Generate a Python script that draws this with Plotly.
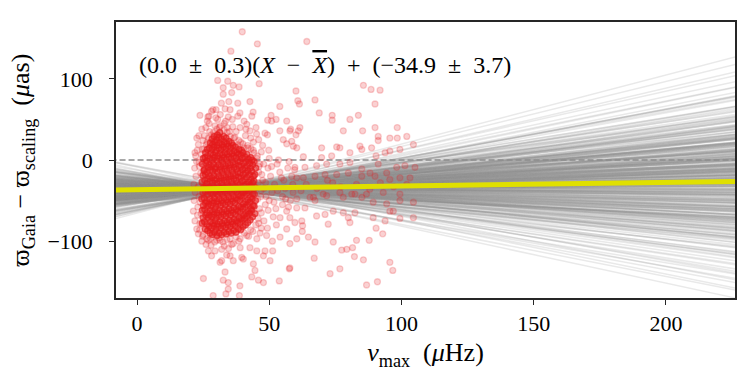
import plotly.graph_objects as go

# axis extent (muHz) and mean of nu_max used as pivot for the linear model
nu_range = [-7.94, 226.1]
nu_ends = [-10, 230]
nu_mean = 37.0

# best fit: slope, intercept at the pivot
fit_slope = 0.045
fit_icpt = -34.9

# posterior draws of (slope, intercept)
draw_slopes = [
    0.12, -0.31, 0.45, 0.03, -0.08, 0.27, -0.52, 0.18, 0.61, -0.19,
    0.07, 0.33, -0.27, 0.85, -0.04, 0.21, -0.41, 0.11, 0.39, -0.13,
    0.02, -0.66, 0.29, 0.15, -0.22, 0.52, 0.08, -0.35, 0.44, -0.01,
    0.24, -0.17, 0.70, -0.46, 0.13, 0.36, -0.09, 0.19, -0.28, 0.05,
    0.57, -0.38, 0.26, -0.11, 0.41, 0.01, -0.58, 0.31, 0.09, -0.24,
    0.48, -0.06, 0.17, -0.43, 0.64, 0.22, -0.15, 0.35, -0.70, 0.10,
    0.28, -0.20, 0.04, 0.50, -0.33, 0.16, -0.02, 0.38, -0.49, 0.23,
    0.76, -0.12, 0.06, -0.29, 0.43, 0.14, -0.37, 0.30, -0.05, 0.54,
    -0.18, 0.20, -0.62, 0.34, 0.00, 0.47, -0.25, 0.11, -0.44, 0.67,
    0.25, -0.10, 0.40, -0.32, 0.08, -0.55, 0.32, 0.18, -0.07, 0.59,
    0.09, -0.26, 0.37, 0.14, -0.14, 0.53, -0.40, 0.21, 0.02, -0.21,
    0.46, -0.03, 0.28, -0.48, 0.16, 0.62, -0.16, 0.06, 0.33, -0.34,
    0.19, -0.09, 0.42, -0.60, 0.12, 0.27, -0.23, 0.73, 0.04, -0.12,
    0.36, -0.30, 0.15, 0.50, -0.05, 0.23, -0.45, 0.10, 0.31, -0.19,
    0.55, 0.01, -0.36, 0.26, -0.08, 0.44, -0.53, 0.17, 0.07, -0.27,
    0.39, -0.13, 0.22, 0.66, -0.39, 0.13, -0.01, 0.30, -0.22, 0.48,
    0.03, -0.47, 0.34, 0.11, -0.17, 0.58, -0.06, 0.24, -0.32, 0.80,
    0.15, -0.11, 0.41, -0.28, 0.05, 0.29, -0.64, 0.20, -0.02, 0.51,
    -0.20, 0.35, 0.08, -0.42, 0.25, -0.04, 0.45, -0.15, 0.13, -0.57,
    0.32, 0.18, -0.24, 0.60, 0.00, -0.33, 0.38, 0.09, -0.10, 0.22,
    0.05, 0.14, -0.07, 0.22, -0.15, 0.09, 0.28, -0.02, 0.17, -0.21,
    0.11, 0.31, -0.11, 0.03, 0.19, -0.26, 0.08, 0.25, -0.04, 0.13,
    -0.18, 0.20, 0.01, 0.34, -0.09, 0.16, -0.13, 0.27, 0.06, -0.23,
    0.12, 0.38, -0.01, 0.21, -0.16, 0.07, 0.30, -0.06, 0.15, 0.42,
    -0.29, 0.10, 0.24, -0.03, 0.18, -0.12, 0.33, 0.04, -0.19, 0.26,
    0.02, 0.14, -0.08, 0.29, -0.22, 0.09, 0.19, -0.14, 0.36, 0.00,
    0.23, -0.05, 0.12, -0.25, 0.27, 0.07, -0.10, 0.17, 0.40, -0.17,
    0.05, 0.22, -0.02, 0.13, -0.30, 0.32, 0.10, -0.07, 0.20, 0.03,
    -0.14, 0.28, 0.08, -0.20, 0.15, 0.35, -0.04, 0.11, -0.27, 0.24,
    0.06, -0.11, 0.18, 0.44, -0.01, 0.13, -0.23, 0.30, 0.02, -0.09,
    0.21, 0.09, -0.16, 0.26, -0.06, 0.16, 0.37, -0.12, 0.04, 0.19,
    -0.21, 0.11, 0.31, -0.03, 0.23, -0.18, 0.07, 0.14, -0.33, 0.28,
    0.01, 0.17, -0.10, 0.39, -0.14, 0.08, 0.25, -0.24, 0.12, 0.03,
    0.29, -0.08, 0.20, -0.02, 0.33, -0.19, 0.10, 0.46, -0.05, 0.15,
    -0.26, 0.22, 0.05, -0.13, 0.18, 0.34, -0.07, 0.09, 0.27, -0.16,
    0.13, -0.01, 0.24, -0.28, 0.06, 0.19, -0.11, 0.32, 0.00, 0.16,
    -0.04, 0.26, 0.10, -0.22, 0.14, 0.41, -0.15, 0.07, 0.21, -0.09,
    0.30, 0.02, -0.17, 0.12, 0.36, -0.06, 0.18, -0.31, 0.09, 0.25,
    -0.12, 0.04, 0.28, -0.20, 0.15, 0.08, -0.03, 0.35, -0.25, 0.11,
    0.20, -0.14, 0.06, 0.31, -0.08, 0.17, 0.01, -0.19, 0.23, 0.14,
]
draw_icpts = [
    -34.1, -38.2, -31.5, -36.0, -33.2, -39.5, -35.8, -30.9, -37.1, -34.6,
    -32.4, -36.9, -40.3, -33.8, -35.2, -29.8, -37.7, -34.9, -31.9, -38.8,
    -35.5, -33.0, -36.4, -41.2, -34.3, -32.8, -37.4, -35.0, -30.4, -36.7,
    -33.5, -39.1, -35.9, -32.1, -34.7, -37.9, -31.2, -36.2, -34.0, -38.5,
    -33.3, -35.6, -42.0, -31.7, -36.5, -34.4, -29.5, -37.0, -35.3, -33.7,
    -39.8, -32.6, -36.1, -34.8, -38.0, -30.7, -35.7, -33.9, -37.5, -34.2,
    -31.0, -36.8, -35.1, -40.0, -32.9, -34.5, -38.3, -33.1, -36.3, -28.9,
    -35.4, -37.2, -32.3, -39.3, -34.6, -36.6, -31.4, -35.9, -33.6, -38.6,
    -34.1, -37.8, -30.2, -35.0, -36.0, -32.7, -39.0, -34.9, -33.4, -37.3,
    -35.8, -31.6, -36.9, -34.3, -40.7, -33.0, -35.5, -37.6, -32.0, -34.7,
    -36.2, -33.9, -38.9, -31.3, -35.6, -34.0, -37.0, -30.6, -36.4, -33.2,
    -39.6, -34.8, -32.5, -36.8, -35.1, -38.1, -31.8, -35.3, -33.5, -41.5,
    -34.4, -36.7, -29.2, -37.4, -35.0, -32.2, -38.7, -34.2, -36.1, -33.8,
    -31.1, -35.7, -39.4, -34.6, -32.8, -37.7, -35.2, -30.0, -36.6, -34.0,
    -38.4, -33.3, -35.9, -31.9, -37.1, -34.5, -40.2, -32.4, -35.4, -36.3,
    -33.6, -37.9, -30.8, -35.0, -34.2, -38.8, -32.9, -36.0, -34.7, -31.5,
    -37.5, -35.3, -33.0, -39.9, -34.9, -36.5, -31.2, -35.6, -38.2, -33.7,
    -30.3, -36.8, -34.3, -37.3, -32.6, -35.8, -39.2, -33.4, -36.2, -34.8,
    -35.1, -31.8, -37.8, -34.1, -42.6, -33.1, -36.4, -35.5, -30.5, -38.0,
    -34.5, -36.9, -32.2, -35.2, -37.6, -33.8, -28.4, -36.1, -34.4, -39.0,
    -35.3, -33.6, -36.8, -34.2, -37.4, -32.9, -35.9, -34.6, -38.1, -33.2,
    -36.3, -31.8, -35.0, -37.7, -34.0, -39.2, -33.4, -36.0, -34.9, -32.3,
    -37.0, -35.6, -30.9, -36.6, -33.8, -38.4, -35.2, -34.4, -36.9, -31.5,
    -34.8, -37.6, -33.1, -35.7, -39.6, -32.7, -36.2, -34.1, -35.5, -37.9,
    -33.0, -36.5, -34.7, -31.2, -38.7, -35.1, -33.7, -36.8, -32.0, -35.8,
    -34.3, -38.0, -33.5, -36.1, -35.4, -30.6, -37.2, -34.5, -36.7, -33.3,
    -39.0, -32.5, -35.6, -34.0, -37.3, -33.9, -36.4, -31.9, -35.0, -38.6,
    -34.6, -36.0, -32.8, -37.8, -35.3, -33.4, -40.1, -34.9, -36.5, -32.2,
    -35.7, -37.1, -33.6, -34.2, -38.9, -31.4, -36.3, -35.2, -33.0, -37.5,
    -34.4, -36.8, -32.6, -35.9, -34.0, -38.2, -33.8, -36.6, -31.0, -35.1,
    -37.7, -34.7, -33.2, -36.2, -35.5, -39.4, -32.4, -34.8, -36.9, -33.5,
    -35.0, -31.6, -37.0, -34.3, -36.4, -33.1, -38.5, -35.4, -32.9, -36.1,
    -34.5, -37.4, -33.7, -35.8, -30.8, -36.7, -34.1, -38.3, -35.2, -32.1,
    -36.0, -34.9, -37.9, -33.3, -35.6, -31.3, -36.5, -34.2, -39.8, -33.9,
    -35.1, -37.2, -32.7, -36.3, -34.6, -38.8, -33.6, -35.7, -31.7, -36.8,
    -34.0, -35.9, -37.6, -32.5, -36.1, -34.4, -39.1, -33.2, -35.3, -37.0,
    -32.3, -36.6, -34.8, -38.1, -33.4, -35.5, -31.1, -37.3, -34.3, -36.2,
    -35.6, -33.8, -37.8, -34.1, -36.9, -32.8, -35.0, -38.7, -33.1, -36.4,
    -34.7, -37.5, -31.9, -35.8, -33.5, -36.7, -34.5, -39.3, -32.6, -35.2,
    -36.5, -34.2, -37.1, -33.0, -35.4, -38.4, -32.4, -36.0, -34.9, -33.6,
]

# stars: (nu_max, parallax difference) -- sparse ones read individually
sparse_pts = [
    (39.8, 158), (45.5, 143), (35.5, 134), (64.2, 146), (30.5, 98), (34.3, 97),
    (32.6, 89), (36.4, 92), (38.6, 90), (46.2, 94), (32.6, 81), (35.8, 83),
    (31.9, 70), (34.7, 72), (38.1, 70), (42.7, 72), (60.1, 85), (60.8, 73),
    (61.4, 69), (54.0, 66), (28.2, 60), (29.9, 62), (33.3, 63), (35.2, 62),
    (38.9, 58), (38.1, 54), (43.4, 54), (43.9, 59), (50.7, 55), (52.6, 50),
    (50.9, 48), (49.4, 49), (56.6, 48), (27.2, 54), (26.6, 48), (31.1, 40),
    (34.1, 40), (36.2, 41), (40.5, 48), (42.7, 36), (45.0, 40), (48.4, 33),
    (49.3, 31), (54.0, 36), (57.8, 36), (60.1, 31), (22.6, 27), (23.2, 19),
    (24.7, 13), (28.8, 23), (32.6, 18), (21.9, 9), (55.3, 25), (56.6, 20),
    (58.5, 23), (60.4, 15),
    (85.6, 92), (88.5, 87), (91.9, 86), (90.0, 69), (67.3, 74), (68.9, 58),
    (73.8, 55), (73.8, 49), (80.5, 50), (83.7, 55), (58.1, 38), (61.6, 40),
    (61.0, 36), (78.0, 36), (85.3, 36), (90.0, 40), (91.2, 29), (91.2, 24),
    (98.4, 40), (95.6, 27), (98.4, 27), (102.0, 29), (104.5, 19), (59.1, 17),
    (69.8, 15), (75.5, 16), (76.7, 15), (84.3, 17), (85.0, 13), (88.7, 15),
    (80.5, 9), (62.9, 4), (69.8, 3), (73.6, 5), (90.4, 5), (93.8, 9),
    (95.6, 11), (99.4, 13),
    (59.7, -9), (63.5, -9), (67.9, -7), (71.7, -5), (76.7, -5), (80.5, -3),
    (85.0, -11), (88.1, -16), (91.2, -5), (94.4, -16), (98.2, -9), (101.3, -7),
    (105.1, -9), (103.2, -22), (99.4, -22), (95.6, -24), (90.0, -20), (85.0, -20),
    (79.9, -16), (75.5, -18), (71.1, -18), (67.3, -20), (60.4, -22), (62.9, -22),
    (64.0, -30), (68.0, -35), (74.0, -28), (77.0, -33), (83.0, -30), (88.0, -36),
    (92.0, -28), (97.0, -33), (102.0, -30), (62.0, -38), (72.0, -25),
    (70.4, -42), (76.7, -40), (82.4, -42), (86.8, -42), (93.1, -40), (99.4, -42),
    (85.0, -46), (65.4, -46), (60.4, -48), (66.7, -46), (67.3, -50), (71.7, -44),
    (78.0, -46), (81.2, -42), (89.3, -52), (94.4, -54), (95.6, -63), (96.9, -63),
    (99.4, -50), (104.5, -52), (60.4, -59), (63.5, -59), (67.9, -69), (71.1, -67),
    (72.3, -79), (74.2, -63), (78.0, -65), (79.9, -71), (80.5, -77), (82.4, -65),
    (89.3, -71), (93.8, -75), (99.4, -72), (104.5, -71), (62.3, -75), (62.6, -81),
    (62.5, -88), (60.4, -97), (64.8, -95), (67.3, -101), (74.2, -101), (83.0, -99),
    (87.8, -99), (90.4, -84), (92.9, -91), (77.4, -111), (79.3, -110), (81.5, -108),
    (82.2, -119), (85.6, -123), (95.6, -126), (96.7, -136), (67.0, -121), (76.7, -134),
    (73.0, -140), (86.8, -154), (90.9, -150), (57.8, -133), (57.8, -103),
    (25.1, -146), (28.8, -167), (33.3, -138), (31.4, -126), (32.6, -148), (34.5, -151),
    (34.5, -159), (33.6, -165), (38.7, -167), (38.9, -155), (43.4, -144), (44.6, -136),
    (44.0, -128), (45.9, -148), (47.8, -151), (53.8, -149), (57.6, -134), (50.3, -124),
    (47.8, -118), (42.7, -108), (45.3, -112), (48.4, -112), (51.3, -112), (39.6, -120),
    (40.2, -122), (36.4, -124), (35.2, -118), (32.0, -124), (28.2, -118), (27.0, -112),
    (33.9, -117),
    # around the dense clump
    (21.3, -63), (21.9, -75), (22.6, -85), (23.2, -91), (21.6, -50), (22.0, -40),
    (21.5, -30), (22.3, -20), (21.8, -10), (22.5, -2), (23.0, -58), (23.4, -45),
    (23.1, -33), (22.9, -68), (23.6, -8), (23.8, -78), (22.2, 5),
    (26.4, -97), (27.0, -99), (30.1, -99), (31.4, -99), (35.2, -97), (36.4, -103),
    (41.5, -93), (45.3, -97), (49.0, -93), (54.1, -95), (56.6, -85), (59.7, -77),
    (57.8, -71), (56.6, -63), (54.1, -71), (28.0, -105), (33.0, -106), (38.5, -100),
    (43.0, -86), (47.0, -84), (25.0, -92), (32.0, -110), (39.0, -108), (24.5, -100),
    (29.5, -112), (34.6, -109),
    (23.8, 55), (26.8, 53), (28.7, 62), (25.5, 30), (26.5, 22), (27.5, 35),
    (29.5, 42), (30.5, 50), (33.0, 45), (35.0, 35), (37.0, 28), (38.5, 24),
    (40.0, 20), (41.0, 30), (42.0, 15), (44.0, 12), (46.0, 25), (47.0, 10),
    (36.0, 50), (31.5, 56), (34.5, 53), (26.0, 40), (24.5, 38), (39.0, 40),
    (41.5, 44), (43.0, 27), (45.5, 5), (46.5, -5),
    (46.0, -15), (47.5, -25), (48.0, -35), (46.8, -45), (48.5, -55), (47.0, -65),
    (49.5, -10), (50.5, -20), (51.0, -40), (50.0, -50), (52.0, -30), (53.0, -5),
    (52.5, -60), (54.0, -15), (55.0, -45), (55.5, -25), (56.0, -35), (57.0, -10),
    (58.0, -50), (58.5, -20), (59.0, -40), (50.0, 2), (53.5, 0), (48.0, -75),
    (51.5, -70), (46.0, -78), (57.5, -2), (55.0, -55),
    (22.8, 12), (23.5, -3), (24.1, -16), (23.9, -52), (24.2, -66), (23.7, -86),
    (24.8, -94), (26.1, -104), (27.8, -97), (29.4, -101), (31.0, -96), (32.5, -101),
    (34.0, -98), (35.8, -104), (37.5, -95), (39.0, -97), (40.6, -90), (42.2, -94),
    (43.8, -88), (44.9, -80), (45.8, -72), (46.3, -60), (45.6, -48), (46.9, -38),
    (45.9, -28), (47.2, -18), (46.1, -8), (45.4, 2), (44.2, 9), (43.1, 14),
    (41.8, 18), (40.5, 15), (39.2, 22), (38.0, 19), (36.6, 27), (35.3, 29),
    (34.1, 34), (32.9, 37), (31.6, 42), (30.2, 38), (29.0, 34), (28.1, 31),
    (27.0, 27), (26.2, 19), (25.3, 14), (24.4, 7), (48.8, -45), (49.6, -62),
    (47.9, -5), (48.6, -28), (51.8, -52), (53.2, -38), (54.6, -22), (50.9, -8),
    (52.7, -80), (49.3, -84), (46.5, -90), (51.2, -100), (56.2, -48), (58.9, -30),
    (57.3, -58), (59.6, -12), (44.0, 22), (47.5, 18), (49.8, 12), (37.5, 35),
    (33.5, 48), (29.8, 52), (27.3, 45), (25.0, 24), (23.4, 30), (41.2, 38),
    (45.2, 32),
]

# the saturated clump at nu_max ~ 25-45 muHz
core_pts = [
    (24.6, -78), (25.0, -71), (24.7, -62), (25.1, -56), (24.5, -48), (24.9, -40),
    (25.2, -34), (24.6, -27), (24.9, -19), (25.3, -13), (24.7, -5), (25.0, 2),
    (25.8, -85), (25.5, -76), (26.0, -68), (25.6, -61), (25.9, -53), (25.4, -47),
    (25.8, -39), (26.1, -33), (25.6, -25), (25.9, -18), (25.5, -12), (26.0, -4),
    (25.7, 3), (25.9, 9),
    (26.7, -87), (26.4, -79), (26.9, -71), (26.5, -65), (26.8, -57), (26.3, -51),
    (26.7, -43), (27.0, -37), (26.4, -29), (26.8, -23), (26.5, -15), (26.9, -9),
    (26.4, -1), (26.7, 5), (26.6, 13),
    (27.6, -90), (27.3, -82), (27.8, -76), (27.4, -68), (27.7, -62), (27.2, -54),
    (27.6, -48), (27.9, -40), (27.3, -34), (27.7, -26), (27.4, -20), (27.8, -12),
    (27.3, -6), (27.6, 2), (27.9, 8), (27.4, 15), (27.7, 21),
    (28.5, -92), (28.2, -84), (28.7, -78), (28.3, -70), (28.6, -64), (28.1, -56),
    (28.5, -50), (28.8, -42), (28.2, -36), (28.6, -28), (28.3, -22), (28.7, -14),
    (28.2, -8), (28.5, 0), (28.8, 6), (28.3, 13), (28.6, 19), (28.4, 26),
    (29.3, -89), (29.0, -81), (29.5, -75), (29.1, -67), (29.4, -61), (28.9, -53),
    (29.3, -47), (29.6, -39), (29.0, -33), (29.4, -25), (29.1, -19), (29.5, -11),
    (29.0, -5), (29.3, 3), (29.6, 9), (29.1, 16), (29.4, 22), (29.2, 29),
    (30.2, -93), (29.9, -85), (30.4, -79), (30.0, -71), (30.3, -65), (29.8, -57),
    (30.2, -51), (30.5, -43), (29.9, -37), (30.3, -29), (30.0, -23), (30.4, -15),
    (29.9, -9), (30.2, -1), (30.5, 5), (30.0, 12), (30.3, 18), (30.1, 25), (30.4, 31),
    (31.1, -90), (30.8, -82), (31.3, -76), (30.9, -68), (31.2, -62), (30.7, -54),
    (31.1, -48), (31.4, -40), (30.8, -34), (31.2, -26), (30.9, -20), (31.3, -12),
    (30.8, -6), (31.1, 2), (31.4, 8), (30.9, 15), (31.2, 21), (31.0, 28), (31.3, 34),
    (32.0, -92), (31.7, -84), (32.2, -78), (31.8, -70), (32.1, -64), (31.6, -56),
    (32.0, -50), (32.3, -42), (31.7, -36), (32.1, -28), (31.8, -22), (32.2, -14),
    (31.7, -8), (32.0, 0), (32.3, 6), (31.8, 13), (32.1, 19), (31.9, 26),
    (32.9, -89), (32.6, -81), (33.1, -75), (32.7, -67), (33.0, -61), (32.5, -53),
    (32.9, -47), (33.2, -39), (32.6, -33), (33.0, -25), (32.7, -19), (33.1, -11),
    (32.6, -5), (32.9, 3), (33.2, 9), (32.7, 16), (33.0, 22), (32.8, 29),
    (33.8, -91), (33.5, -83), (34.0, -77), (33.6, -69), (33.9, -63), (33.4, -55),
    (33.8, -49), (34.1, -41), (33.5, -35), (33.9, -27), (33.6, -21), (34.0, -13),
    (33.5, -7), (33.8, 1), (34.1, 7), (33.6, 14), (33.9, 20), (33.7, 27),
    (34.7, -88), (34.4, -80), (34.9, -74), (34.5, -66), (34.8, -60), (34.3, -52),
    (34.7, -46), (35.0, -38), (34.4, -32), (34.8, -24), (34.5, -18), (34.9, -10),
    (34.4, -4), (34.7, 4), (35.0, 10), (34.5, 17), (34.8, 23),
    (35.6, -90), (35.3, -82), (35.8, -76), (35.4, -68), (35.7, -62), (35.2, -54),
    (35.6, -48), (35.9, -40), (35.3, -34), (35.7, -26), (35.4, -20), (35.8, -12),
    (35.3, -6), (35.6, 2), (35.9, 8), (35.4, 15), (35.7, 21),
    (36.5, -87), (36.2, -79), (36.7, -73), (36.3, -65), (36.6, -59), (36.1, -51),
    (36.5, -45), (36.8, -37), (36.2, -31), (36.6, -23), (36.3, -17), (36.7, -9),
    (36.2, -3), (36.5, 5), (36.8, 11), (36.3, 18),
    (37.4, -89), (37.1, -81), (37.6, -75), (37.2, -67), (37.5, -61), (37.0, -53),
    (37.4, -47), (37.7, -39), (37.1, -33), (37.5, -25), (37.2, -19), (37.6, -11),
    (37.1, -5), (37.4, 3), (37.7, 9), (37.2, 16),
    (38.3, -85), (38.0, -77), (38.5, -71), (38.1, -63), (38.4, -57), (37.9, -49),
    (38.3, -43), (38.6, -35), (38.0, -29), (38.4, -21), (38.1, -15), (38.5, -7),
    (38.0, -1), (38.3, 7), (38.6, 13),
    (39.2, -86), (38.9, -78), (39.4, -72), (39.0, -64), (39.3, -58), (38.8, -50),
    (39.2, -44), (39.5, -36), (38.9, -30), (39.3, -22), (39.0, -16), (39.4, -8),
    (38.9, -2), (39.2, 6), (39.5, 12),
    (40.1, -82), (39.8, -74), (40.3, -68), (39.9, -60), (40.2, -54), (39.7, -46),
    (40.1, -40), (40.4, -32), (39.8, -26), (40.2, -18), (39.9, -12), (40.3, -4),
    (39.8, 2), (40.1, 9),
    (41.0, -80), (40.7, -72), (41.2, -66), (40.8, -58), (41.1, -52), (40.6, -44),
    (41.0, -38), (41.3, -30), (40.7, -24), (41.1, -16), (40.8, -10), (41.2, -2),
    (40.7, 4),
    (41.9, -77), (41.6, -69), (42.1, -63), (41.7, -55), (42.0, -49), (41.5, -41),
    (41.9, -35), (42.2, -27), (41.6, -21), (42.0, -13), (41.7, -7), (42.1, 1),
    (41.6, 7),
    (42.8, -74), (42.5, -66), (43.0, -60), (42.6, -52), (42.9, -46), (42.4, -38),
    (42.8, -32), (43.1, -24), (42.5, -18), (42.9, -10), (42.6, -4), (43.0, 3),
    (43.7, -70), (43.4, -62), (43.9, -56), (43.5, -48), (43.8, -42), (43.3, -34),
    (43.7, -28), (44.0, -20), (43.4, -14), (43.8, -6), (43.5, 0),
    (44.6, -66), (44.3, -57), (44.8, -50), (44.4, -42), (44.7, -34), (44.2, -26),
    (44.6, -18), (44.9, -10), (44.3, -2),
]

FONT = "Liberation Serif, DejaVu Serif, serif"
AX = "#262626"

fig = go.Figure()

# posterior lines
for m, b in zip(draw_slopes, draw_icpts):
    fig.add_trace(go.Scatter(
        x=nu_ends, y=[b + m * (x - nu_mean) for x in nu_ends],
        mode="lines", line=dict(color="rgba(145,145,145,0.2)", width=1.5),
        hoverinfo="skip", showlegend=False))

# zero line
fig.add_trace(go.Scatter(
    x=nu_ends, y=[0, 0], mode="lines",
    line=dict(color="#8c8c8c", width=1.5, dash="6px,3px"),
    hoverinfo="skip", showlegend=False))

red = "228,26,28"
fig.add_trace(go.Scatter(
    x=[p[0] for p in sparse_pts], y=[p[1] for p in sparse_pts], mode="markers",
    marker=dict(size=6, color=f"rgba({red},0.2)", line=dict(color=f"rgba({red},0.2)", width=1.3)),
    showlegend=False))
fig.add_trace(go.Scatter(
    x=[p[0] for p in core_pts], y=[p[1] for p in core_pts], mode="markers",
    marker=dict(size=6, color=f"rgba({red},0.6)", line=dict(color=f"rgba({red},0.6)", width=1.3)),
    showlegend=False))

# best fit
fig.add_trace(go.Scatter(
    x=nu_ends, y=[fit_icpt + fit_slope * (x - nu_mean) for x in nu_ends],
    mode="lines", line=dict(color="#e0e000", width=5),
    hoverinfo="skip", showlegend=False))

sp = "\u2002"
fig.add_annotation(
    xref="paper", yref="paper", x=0.034, y=0.846, xanchor="left", yanchor="middle",
    text=(f"(0.0{sp}±{sp}0.3)(<i>X</i>{sp}−{sp}<i><span style='text-decoration:overline'>X</span></i>)"
          f"{sp}+{sp}(−34.9{sp}±{sp}3.7)"),
    showarrow=False, font=dict(family=FONT, size=24, color="black"))

fig.update_layout(
    width=750, height=375,
    margin=dict(l=116, r=15, t=22, b=77),
    paper_bgcolor="white", plot_bgcolor="white",
    font=dict(family=FONT, size=22, color="black"),
    xaxis=dict(
        range=nu_range, tickvals=[0, 50, 100, 150, 200],
        showline=True, mirror=True, linecolor=AX, linewidth=1.5,
        ticks="outside", ticklen=5, tickwidth=1.3, tickcolor=AX,
        showgrid=False, zeroline=False,
        title=dict(text="<i>ν</i><sub>max</sub>  (<i>μ</i>Hz)", standoff=8)),
    yaxis=dict(
        range=[-170, 170], tickvals=[-100, 0, 100],
        showline=True, mirror=True, linecolor=AX, linewidth=1.5,
        ticks="outside", ticklen=5, tickwidth=1.3, tickcolor=AX,
        showgrid=False, zeroline=False, ticklabelstandoff=12,
        title=dict(text="ϖ<sub>Gaia</sub> − ϖ<sub>scaling</sub>  (<i>μ</i>as)", standoff=10)),
)

fig.write_html("out.html", config={"displayModeBar": False},
               post_script="document.body.style.margin='0';")
